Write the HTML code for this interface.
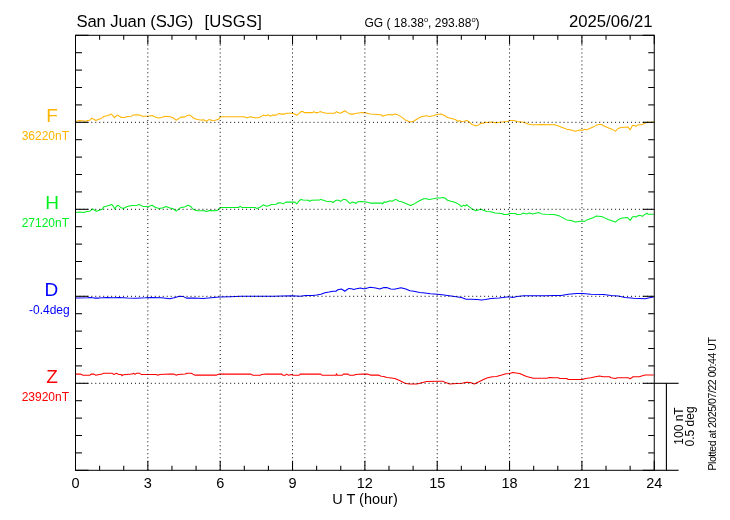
<!DOCTYPE html><html><head><meta charset="utf-8"><style>html,body{margin:0;padding:0;background:#fff;}svg{display:block;}text{font-family:"Liberation Sans",Arial,sans-serif;}</style></head><body>
<svg width="730" height="520" viewBox="0 0 730 520">
<rect width="730" height="520" fill="#fff"/>
<path d="M75.4 121.6 L79.5 120.5 L82.9 120.8 L85.6 121.2 L87.7 120.5 L89.8 120.3 L91.8 118.1 L93.9 119.2 L95.9 120.5 L98.7 119.2 L101.4 118.5 L103.5 116.4 L106.9 115.8 L109.6 114.8 L111.3 114.0 L112.4 115.1 L114.4 117.8 L115.8 116.2 L117.8 115.1 L121.3 117.5 L124.7 117.5 L127.4 116.4 L131.5 116.2 L132.9 115.1 L138.4 114.8 L142.5 116.2 L148.0 116.2 L152.1 115.5 L154.8 116.7 L158.2 118.1 L161.7 117.5 L165.1 116.2 L169.9 116.8 L172.7 117.5 L176.2 120.3 L181.0 117.1 L184.4 117.1 L187.8 115.3 L190.3 115.3 L194.0 118.5 L197.4 119.5 L202.2 120.3 L202.9 119.6 L206.3 121.2 L209.0 119.6 L212.5 120.5 L215.2 120.3 L218.6 119.2 L220.7 116.7 L244.0 116.7 L246.7 117.8 L250.8 116.7 L254.2 117.8 L259.0 117.8 L263.2 115.1 L265.9 115.8 L268.6 114.8 L270.1 116.2 L272.8 115.1 L276.3 115.1 L279.0 113.4 L281.1 114.1 L284.5 114.1 L286.5 113.3 L292.0 113.3 L294.8 114.0 L296.8 115.3 L298.9 113.7 L300.9 111.6 L303.0 111.6 L304.4 112.6 L312.6 112.6 L313.9 111.6 L315.3 112.6 L318.0 112.6 L320.1 111.6 L322.8 112.6 L326.3 113.3 L334.5 113.3 L336.5 111.6 L337.9 112.6 L340.7 113.3 L344.8 110.7 L347.5 112.6 L350.2 114.1 L353.7 114.1 L356.4 113.3 L360.5 112.7 L363.3 112.6 L366.1 113.0 L370.2 114.1 L378.4 114.4 L381.9 115.1 L382.5 116.2 L386.0 115.1 L390.1 114.4 L392.1 115.1 L394.9 114.1 L396.9 114.4 L401.7 117.1 L405.8 120.3 L410.0 121.9 L413.4 121.2 L416.8 119.2 L420.2 117.1 L423.6 116.2 L426.4 115.8 L429.1 116.4 L433.2 115.8 L436.7 114.4 L440.8 114.1 L444.2 115.3 L447.6 117.5 L451.7 118.5 L455.2 119.5 L457.9 121.2 L459.9 120.5 L460.7 121.6 L464.2 121.2 L466.9 120.5 L469.6 122.2 L471.7 124.4 L475.8 125.8 L478.5 124.9 L481.3 123.0 L483.3 123.6 L484.7 122.2 L488.1 122.6 L491.6 121.9 L494.3 122.6 L497.7 122.6 L501.8 121.9 L507.3 121.6 L510.1 120.5 L514.2 120.5 L516.9 121.6 L523.8 122.2 L527.9 124.0 L532.0 124.7 L537.5 124.7 L540.2 124.4 L553.9 124.7 L554.0 124.5 L559.7 126.4 L566.8 129.2 L571.1 129.9 L575.4 131.3 L579.6 129.9 L582.5 130.2 L584.6 129.2 L586.8 129.9 L589.6 128.5 L593.2 127.1 L596.7 124.9 L599.6 124.5 L601.7 124.5 L603.1 125.6 L608.1 127.8 L612.4 129.6 L615.5 131.1 L618.1 128.5 L621.0 127.4 L628.1 127.1 L630.2 129.9 L632.3 125.6 L634.5 125.4 L635.9 126.4 L638.0 124.9 L642.3 124.5 L645.2 123.1 L648.0 122.1 L650.9 122.5 L653.7 121.8" fill="none" stroke="#FFB400" stroke-width="1.05" stroke-linejoin="round"/>
<path d="M75.4 212.6 L79.5 211.9 L83.6 212.6 L87.0 211.6 L89.8 211.2 L92.5 208.9 L94.5 210.3 L96.6 211.2 L99.3 210.3 L102.1 209.2 L104.1 206.7 L108.2 205.8 L111.7 204.4 L113.0 205.8 L114.8 208.9 L116.5 206.2 L118.1 205.3 L121.3 207.8 L123.3 208.5 L126.7 206.7 L130.2 205.8 L137.0 205.3 L139.1 204.4 L142.5 206.2 L148.0 206.7 L152.1 205.3 L155.5 207.5 L159.6 208.5 L163.0 207.8 L166.1 206.4 L169.9 208.1 L172.7 208.5 L176.2 211.2 L180.3 207.8 L184.4 207.1 L187.8 205.3 L190.5 206.2 L193.3 209.5 L197.4 210.8 L204.9 210.8 L206.3 211.6 L209.7 210.5 L215.9 210.8 L217.9 209.9 L220.7 207.5 L238.5 207.5 L240.1 206.4 L241.9 207.5 L254.9 207.5 L257.0 208.5 L260.4 207.1 L263.2 204.8 L266.6 206.2 L268.7 205.8 L271.5 204.6 L276.3 204.2 L278.3 202.8 L281.8 203.1 L283.1 203.9 L285.9 202.1 L294.8 202.1 L296.8 203.9 L298.9 201.2 L300.9 199.4 L303.0 200.1 L308.5 200.3 L309.6 201.4 L311.2 200.3 L319.4 200.1 L320.8 199.4 L323.5 200.3 L326.3 201.2 L331.8 201.7 L333.1 202.5 L335.9 200.3 L338.6 200.3 L340.7 201.4 L343.4 199.4 L345.5 199.4 L347.5 201.2 L349.8 203.5 L352.3 202.1 L355.0 202.8 L355.7 203.5 L357.8 201.7 L361.9 201.4 L366.1 202.1 L370.2 203.1 L381.9 203.1 L382.5 203.9 L383.9 202.1 L386.7 202.1 L390.1 200.8 L392.1 201.2 L395.6 199.4 L399.0 201.2 L401.7 201.7 L405.8 203.5 L410.6 205.5 L414.1 203.9 L419.5 200.8 L423.6 198.7 L426.4 198.7 L429.1 199.4 L433.2 198.7 L436.7 198.0 L440.1 198.0 L442.8 197.6 L444.9 198.0 L447.6 200.3 L451.0 201.2 L453.1 201.7 L455.8 202.8 L458.0 203.9 L460.1 205.3 L461.4 206.6 L463.5 205.3 L465.5 206.0 L466.5 204.6 L469.0 206.6 L471.7 208.7 L475.8 210.8 L478.5 210.1 L480.6 209.0 L483.3 210.3 L486.8 211.4 L490.9 211.7 L495.0 213.1 L501.8 213.5 L503.9 214.5 L508.0 214.5 L509.4 213.5 L515.5 213.5 L516.9 214.5 L521.0 214.2 L523.1 213.1 L526.5 213.9 L529.2 213.1 L532.7 213.9 L538.8 212.5 L541.6 213.9 L545.7 214.2 L553.9 214.5 L559.7 216.1 L566.8 219.9 L571.1 220.4 L575.4 222.1 L578.9 221.4 L582.5 220.9 L584.6 221.4 L586.8 219.9 L589.6 218.9 L593.2 217.8 L596.0 216.1 L601.0 216.4 L603.1 217.1 L608.1 219.5 L612.4 220.9 L615.5 222.1 L618.8 219.2 L622.4 218.1 L627.4 217.5 L630.2 220.4 L632.3 217.1 L634.5 216.4 L635.9 217.1 L638.0 215.7 L640.2 215.2 L642.3 216.4 L645.2 214.2 L647.3 213.2 L648.0 214.2 L653.7 214.2" fill="none" stroke="#00F020" stroke-width="1.05" stroke-linejoin="round"/>
<path d="M75.4 298.1 L87.7 297.8 L90.4 297.5 L94.5 298.1 L98.7 298.1 L106.9 297.4 L113.7 297.8 L119.2 297.4 L127.4 298.1 L135.6 298.2 L145.2 297.8 L150.7 297.4 L161.7 297.8 L169.9 298.8 L174.1 297.8 L179.6 296.2 L183.0 296.4 L186.4 298.1 L194.7 298.1 L202.9 298.5 L211.1 297.8 L219.3 297.1 L230.3 296.7 L241.2 296.2 L254.9 296.2 L270.0 296.2 L274.2 296.2 L282.4 296.0 L292.0 295.8 L300.2 296.2 L305.7 295.5 L312.6 295.5 L316.7 294.9 L320.8 294.2 L324.9 292.8 L329.0 292.1 L333.1 291.2 L335.9 291.2 L337.9 289.8 L341.3 289.0 L342.7 289.8 L344.8 291.2 L346.8 289.8 L348.9 288.4 L351.6 288.7 L353.7 289.4 L356.4 288.7 L360.5 288.0 L363.3 288.7 L364.7 288.7 L370.2 287.3 L375.7 288.0 L379.8 289.1 L383.9 287.6 L386.7 287.6 L390.8 289.0 L394.2 289.2 L401.0 287.7 L405.8 289.1 L410.0 290.8 L414.1 291.2 L419.5 292.4 L425.0 293.1 L430.5 293.8 L437.3 294.2 L444.2 295.1 L451.0 296.0 L457.9 296.9 L461.4 297.5 L466.2 299.2 L471.7 299.2 L477.2 299.5 L481.3 300.1 L485.4 299.6 L490.9 298.5 L499.1 298.1 L508.7 296.8 L512.8 297.4 L516.9 296.4 L523.8 295.8 L545.7 295.8 L554.0 295.4 L561.1 295.4 L568.2 294.2 L576.8 293.5 L582.5 293.5 L591.0 294.2 L603.9 294.5 L611.0 295.4 L618.1 296.1 L625.2 297.4 L633.8 298.2 L645.2 298.8 L649.4 297.8 L653.7 297.1" fill="none" stroke="#0000FF" stroke-width="1.05" stroke-linejoin="round"/>
<path d="M75.4 374.1 L80.8 374.1 L82.9 375.3 L89.8 375.3 L91.1 374.1 L93.9 374.1 L95.9 375.3 L98.0 374.8 L102.1 374.1 L103.5 373.3 L112.4 373.3 L113.7 374.4 L116.5 373.3 L118.5 374.4 L121.3 374.4 L121.9 375.8 L123.3 374.8 L132.2 374.1 L133.6 373.3 L135.0 374.4 L136.3 373.3 L139.8 373.3 L141.1 374.4 L156.2 374.4 L158.2 375.3 L159.6 374.4 L170.0 374.1 L174.1 374.1 L176.2 375.3 L178.2 374.4 L185.1 374.1 L187.1 373.3 L191.2 373.3 L194.7 375.1 L216.6 375.1 L219.3 374.1 L250.8 374.1 L252.9 375.3 L260.4 375.3 L261.8 374.4 L266.0 374.1 L281.8 374.1 L283.1 375.3 L285.2 375.3 L286.5 374.1 L288.6 375.3 L291.3 374.4 L293.4 375.3 L298.9 375.3 L300.2 374.1 L320.8 374.1 L322.2 375.3 L335.9 375.3 L336.5 373.7 L337.2 375.3 L342.0 375.3 L343.4 374.1 L348.2 374.1 L349.6 375.3 L353.7 375.3 L355.7 374.4 L362.0 374.1 L367.5 374.1 L370.2 375.1 L378.4 375.1 L381.2 376.2 L383.9 376.4 L386.7 377.5 L389.4 377.8 L394.9 378.5 L399.0 380.3 L403.1 382.3 L405.8 383.6 L410.0 384.0 L416.8 384.0 L420.9 383.0 L426.4 381.6 L437.3 381.2 L442.8 381.2 L445.6 382.6 L449.7 384.0 L456.5 383.6 L462.1 383.3 L466.2 382.2 L470.3 382.6 L474.4 384.0 L479.9 381.2 L486.8 378.1 L492.2 376.7 L496.4 376.4 L501.8 375.1 L505.9 373.7 L509.4 373.4 L512.8 372.6 L519.6 373.4 L526.5 376.4 L533.3 378.2 L547.0 378.2 L549.1 377.5 L554.0 377.8 L558.3 377.8 L559.7 378.5 L566.8 378.5 L568.2 379.5 L582.5 379.5 L585.3 378.5 L591.0 377.8 L595.3 376.8 L599.6 376.0 L603.1 376.8 L609.6 376.8 L611.0 377.8 L615.3 378.5 L617.4 377.8 L628.1 377.8 L630.2 378.8 L633.1 376.8 L639.5 376.8 L641.6 376.0 L645.2 375.0 L653.7 375.0" fill="none" stroke="#FF0000" stroke-width="1.05" stroke-linejoin="round"/>
<g stroke="#000" stroke-width="1" stroke-dasharray="1 2.968"><line x1="147.84" y1="36.6" x2="147.84" y2="470.30"/><line x1="220.19" y1="36.6" x2="220.19" y2="470.30"/><line x1="292.53" y1="36.6" x2="292.53" y2="470.30"/><line x1="364.88" y1="36.6" x2="364.88" y2="470.30"/><line x1="437.22" y1="36.6" x2="437.22" y2="470.30"/><line x1="509.56" y1="36.6" x2="509.56" y2="470.30"/><line x1="581.91" y1="36.6" x2="581.91" y2="470.30"/></g>
<g stroke="#000" stroke-width="1" stroke-dasharray="1 2.968"><line x1="75.44" y1="122.30" x2="654.25" y2="122.30"/><line x1="75.44" y1="209.30" x2="654.25" y2="209.30"/><line x1="75.44" y1="296.30" x2="654.25" y2="296.30"/><line x1="75.44" y1="383.30" x2="654.25" y2="383.30"/></g>
<g stroke="#000" stroke-width="1.05"><line x1="75.50" y1="35.30" x2="75.50" y2="44.30"/><line x1="75.50" y1="470.30" x2="75.50" y2="460.80"/><line x1="99.61" y1="35.30" x2="99.61" y2="39.80"/><line x1="99.61" y1="470.30" x2="99.61" y2="465.80"/><line x1="123.73" y1="35.30" x2="123.73" y2="39.80"/><line x1="123.73" y1="470.30" x2="123.73" y2="465.80"/><line x1="147.84" y1="35.30" x2="147.84" y2="44.30"/><line x1="147.84" y1="470.30" x2="147.84" y2="460.80"/><line x1="171.96" y1="35.30" x2="171.96" y2="39.80"/><line x1="171.96" y1="470.30" x2="171.96" y2="465.80"/><line x1="196.07" y1="35.30" x2="196.07" y2="39.80"/><line x1="196.07" y1="470.30" x2="196.07" y2="465.80"/><line x1="220.19" y1="35.30" x2="220.19" y2="44.30"/><line x1="220.19" y1="470.30" x2="220.19" y2="460.80"/><line x1="244.30" y1="35.30" x2="244.30" y2="39.80"/><line x1="244.30" y1="470.30" x2="244.30" y2="465.80"/><line x1="268.42" y1="35.30" x2="268.42" y2="39.80"/><line x1="268.42" y1="470.30" x2="268.42" y2="465.80"/><line x1="292.53" y1="35.30" x2="292.53" y2="44.30"/><line x1="292.53" y1="470.30" x2="292.53" y2="460.80"/><line x1="316.65" y1="35.30" x2="316.65" y2="39.80"/><line x1="316.65" y1="470.30" x2="316.65" y2="465.80"/><line x1="340.76" y1="35.30" x2="340.76" y2="39.80"/><line x1="340.76" y1="470.30" x2="340.76" y2="465.80"/><line x1="364.88" y1="35.30" x2="364.88" y2="44.30"/><line x1="364.88" y1="470.30" x2="364.88" y2="460.80"/><line x1="388.99" y1="35.30" x2="388.99" y2="39.80"/><line x1="388.99" y1="470.30" x2="388.99" y2="465.80"/><line x1="413.10" y1="35.30" x2="413.10" y2="39.80"/><line x1="413.10" y1="470.30" x2="413.10" y2="465.80"/><line x1="437.22" y1="35.30" x2="437.22" y2="44.30"/><line x1="437.22" y1="470.30" x2="437.22" y2="460.80"/><line x1="461.33" y1="35.30" x2="461.33" y2="39.80"/><line x1="461.33" y1="470.30" x2="461.33" y2="465.80"/><line x1="485.45" y1="35.30" x2="485.45" y2="39.80"/><line x1="485.45" y1="470.30" x2="485.45" y2="465.80"/><line x1="509.56" y1="35.30" x2="509.56" y2="44.30"/><line x1="509.56" y1="470.30" x2="509.56" y2="460.80"/><line x1="533.68" y1="35.30" x2="533.68" y2="39.80"/><line x1="533.68" y1="470.30" x2="533.68" y2="465.80"/><line x1="557.79" y1="35.30" x2="557.79" y2="39.80"/><line x1="557.79" y1="470.30" x2="557.79" y2="465.80"/><line x1="581.91" y1="35.30" x2="581.91" y2="44.30"/><line x1="581.91" y1="470.30" x2="581.91" y2="460.80"/><line x1="606.02" y1="35.30" x2="606.02" y2="39.80"/><line x1="606.02" y1="470.30" x2="606.02" y2="465.80"/><line x1="630.14" y1="35.30" x2="630.14" y2="39.80"/><line x1="630.14" y1="470.30" x2="630.14" y2="465.80"/><line x1="654.25" y1="35.30" x2="654.25" y2="44.30"/><line x1="654.25" y1="470.30" x2="654.25" y2="460.80"/><line x1="75.50" y1="35.30" x2="88.50" y2="35.30"/><line x1="654.25" y1="35.30" x2="642.75" y2="35.30"/><line x1="75.50" y1="52.70" x2="82.00" y2="52.70"/><line x1="654.25" y1="52.70" x2="648.25" y2="52.70"/><line x1="75.50" y1="70.10" x2="82.00" y2="70.10"/><line x1="654.25" y1="70.10" x2="648.25" y2="70.10"/><line x1="75.50" y1="87.50" x2="82.00" y2="87.50"/><line x1="654.25" y1="87.50" x2="648.25" y2="87.50"/><line x1="75.50" y1="104.90" x2="82.00" y2="104.90"/><line x1="654.25" y1="104.90" x2="648.25" y2="104.90"/><line x1="75.50" y1="122.30" x2="88.50" y2="122.30"/><line x1="654.25" y1="122.30" x2="642.75" y2="122.30"/><line x1="75.50" y1="139.70" x2="82.00" y2="139.70"/><line x1="654.25" y1="139.70" x2="648.25" y2="139.70"/><line x1="75.50" y1="157.10" x2="82.00" y2="157.10"/><line x1="654.25" y1="157.10" x2="648.25" y2="157.10"/><line x1="75.50" y1="174.50" x2="82.00" y2="174.50"/><line x1="654.25" y1="174.50" x2="648.25" y2="174.50"/><line x1="75.50" y1="191.90" x2="82.00" y2="191.90"/><line x1="654.25" y1="191.90" x2="648.25" y2="191.90"/><line x1="75.50" y1="209.30" x2="88.50" y2="209.30"/><line x1="654.25" y1="209.30" x2="642.75" y2="209.30"/><line x1="75.50" y1="226.70" x2="82.00" y2="226.70"/><line x1="654.25" y1="226.70" x2="648.25" y2="226.70"/><line x1="75.50" y1="244.10" x2="82.00" y2="244.10"/><line x1="654.25" y1="244.10" x2="648.25" y2="244.10"/><line x1="75.50" y1="261.50" x2="82.00" y2="261.50"/><line x1="654.25" y1="261.50" x2="648.25" y2="261.50"/><line x1="75.50" y1="278.90" x2="82.00" y2="278.90"/><line x1="654.25" y1="278.90" x2="648.25" y2="278.90"/><line x1="75.50" y1="296.30" x2="88.50" y2="296.30"/><line x1="654.25" y1="296.30" x2="642.75" y2="296.30"/><line x1="75.50" y1="313.70" x2="82.00" y2="313.70"/><line x1="654.25" y1="313.70" x2="648.25" y2="313.70"/><line x1="75.50" y1="331.10" x2="82.00" y2="331.10"/><line x1="654.25" y1="331.10" x2="648.25" y2="331.10"/><line x1="75.50" y1="348.50" x2="82.00" y2="348.50"/><line x1="654.25" y1="348.50" x2="648.25" y2="348.50"/><line x1="75.50" y1="365.90" x2="82.00" y2="365.90"/><line x1="654.25" y1="365.90" x2="648.25" y2="365.90"/><line x1="75.50" y1="383.30" x2="88.50" y2="383.30"/><line x1="654.25" y1="383.30" x2="642.75" y2="383.30"/><line x1="75.50" y1="400.70" x2="82.00" y2="400.70"/><line x1="654.25" y1="400.70" x2="648.25" y2="400.70"/><line x1="75.50" y1="418.10" x2="82.00" y2="418.10"/><line x1="654.25" y1="418.10" x2="648.25" y2="418.10"/><line x1="75.50" y1="435.50" x2="82.00" y2="435.50"/><line x1="654.25" y1="435.50" x2="648.25" y2="435.50"/><line x1="75.50" y1="452.90" x2="82.00" y2="452.90"/><line x1="654.25" y1="452.90" x2="648.25" y2="452.90"/><line x1="75.50" y1="470.30" x2="88.50" y2="470.30"/><line x1="654.25" y1="470.30" x2="642.75" y2="470.30"/></g>
<rect x="75.5" y="35.3" width="578.75" height="435.00" fill="none" stroke="#000" stroke-width="1"/>
<g stroke="#000" stroke-width="1.1"><line x1="654.25" y1="383.30" x2="678.6" y2="383.30"/><line x1="654.25" y1="470.3" x2="678.6" y2="470.3"/><line x1="666.4" y1="383.30" x2="666.4" y2="470.3" stroke-width="1.1"/></g>
<text x="76.5" y="26.7" font-size="16.7" letter-spacing="-0.15" fill="#000">San Juan (SJG)</text>
<text x="204.4" y="26.7" font-size="16.7" letter-spacing="0.2" fill="#000">[USGS]</text>
<text x="364.5" y="26.8" font-size="12" fill="#000">GG ( 18.38<tspan font-size="7.5" dy="-4.5">o</tspan><tspan dy="4.5">, 293.88</tspan><tspan font-size="7.5" dy="-4.5">o</tspan><tspan dy="4.5">)</tspan></text>
<text x="652.5" y="26.7" font-size="16.7" fill="#000" text-anchor="end">2025/06/21</text>
<text x="52" y="122.3" font-size="19" fill="#FFB400" text-anchor="middle">F</text>
<text x="69" y="139.8" font-size="12" fill="#FFB400" text-anchor="end">36220nT</text>
<text x="52" y="209.3" font-size="19" fill="#00F020" text-anchor="middle">H</text>
<text x="69" y="226.8" font-size="12" fill="#00F020" text-anchor="end">27120nT</text>
<text x="51.4" y="296.3" font-size="19" fill="#0000FF" text-anchor="middle">D</text>
<text x="69.7" y="313.8" font-size="12" fill="#0000FF" text-anchor="end">-0.4deg</text>
<text x="52" y="383.3" font-size="19" fill="#FF0000" text-anchor="middle">Z</text>
<text x="69" y="400.8" font-size="12" fill="#FF0000" text-anchor="end">23920nT</text>
<text x="75.50" y="488" font-size="14.5" fill="#000" text-anchor="middle">0</text>
<text x="147.84" y="488" font-size="14.5" fill="#000" text-anchor="middle">3</text>
<text x="220.19" y="488" font-size="14.5" fill="#000" text-anchor="middle">6</text>
<text x="292.53" y="488" font-size="14.5" fill="#000" text-anchor="middle">9</text>
<text x="364.88" y="488" font-size="14.5" fill="#000" text-anchor="middle">12</text>
<text x="437.22" y="488" font-size="14.5" fill="#000" text-anchor="middle">15</text>
<text x="509.56" y="488" font-size="14.5" fill="#000" text-anchor="middle">18</text>
<text x="581.91" y="488" font-size="14.5" fill="#000" text-anchor="middle">21</text>
<text x="654.25" y="488" font-size="14.5" fill="#000" text-anchor="middle">24</text>
<text x="365" y="503.7" font-size="14.5" fill="#000" text-anchor="middle">U T (hour)</text>
<text transform="translate(683.3,426) rotate(-90)" font-size="12" fill="#000" text-anchor="middle">100 nT</text>
<text transform="translate(693.6,426.4) rotate(-90)" font-size="12" fill="#000" text-anchor="middle">0.5 deg</text>
<text transform="translate(715.6,470.6) rotate(-90)" font-size="10.5" letter-spacing="-0.43" fill="#000">Plotted at 2025/07/22 00:44 UT</text>
</svg></body></html>
